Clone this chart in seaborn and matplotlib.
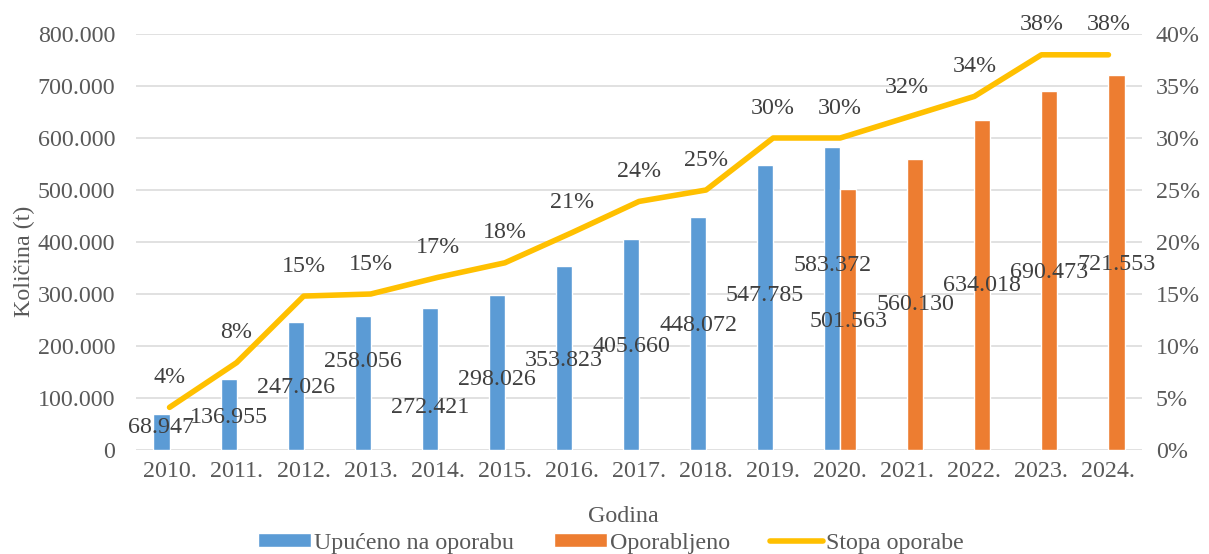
import matplotlib.pyplot as plt
import seaborn as sns
import numpy as np
import pandas as pd
from matplotlib.patches import Patch
from matplotlib.lines import Line2D

# data
years = ["2010.", "2011.", "2012.", "2013.", "2014.", "2015.", "2016.", "2017.",
         "2018.", "2019.", "2020.", "2021.", "2022.", "2023.", "2024."]
upuceno = [68947, 136955, 247026, 258056, 272421, 298026, 353823, 405660,
           448072, 547785, 583372, np.nan, np.nan, np.nan, np.nan]
oporabljeno = [np.nan] * 10 + [501563, 560130, 634018, 690473, 721553]
stopa = [4.1, 8.4, 14.8, 15.0, 16.6, 18.0, 20.9, 23.9, 25.0,
         30.0, 30.0, 32.0, 34.0, 38.0, 38.0]
y_ticks = list(range(0, 800001, 100000))
pct_ticks = list(range(0, 41, 5))

series = ["Upućeno na oporabu", "Oporabljeno"]
line_name = "Stopa oporabe"
colors = ["#5B9BD5", "#ED7D31"]
line_color = "#FFC000"

# label nudges (pixels up from bar centre), layout only
nudge_blue = [5, -3, -2, 21, -28, -7, -2, -2, 8, 12, 33, 0, 0, 0, 0]
nudge_orange = [0] * 10 + [-2, 0, 0, -2, -2]

FS = 17.3


def fmt(v):
    return "0" if v == 0 else f"{v:,.0f}".replace(",", ".")


df = pd.concat([
    pd.DataFrame({"Godina": years, "Količina": upuceno, "Serija": series[0]}),
    pd.DataFrame({"Godina": years, "Količina": oporabljeno, "Serija": series[1]}),
]).dropna()

sns.set_theme(style="white")
plt.rcParams["font.family"] = ["Liberation Serif", "DejaVu Serif"]
plt.rcParams["font.size"] = FS

fig = plt.figure(figsize=(12.09, 5.54), dpi=100)
ax = fig.add_axes([136 / 1209, 1 - 450 / 554, 1006 / 1209, 416 / 554])

sns.barplot(data=df, x="Godina", y="Količina", hue="Serija", order=years,
            hue_order=series, palette=colors, width=0.48, saturation=1,
            dodge=True, legend=False, ax=ax)

ax.set_ylim(0, 800000)
ax.set_yticks(y_ticks)
ax.set_yticklabels([fmt(v) for v in y_ticks])
ax.yaxis.grid(True, color="#d9d9d9", linewidth=1.1)
ax.set_axisbelow(True)
for s in ax.spines.values():
    s.set_visible(False)
ax.tick_params(axis="both", length=0, labelsize=FS, labelcolor="#595959")
ax.tick_params(axis="x", pad=8)
ax.tick_params(axis="y", pad=15)

ax.set_ylabel("Količina (t)", fontsize=FS, color="#595959")
ax.yaxis.set_label_coords(-0.100, 0.454)
ax.set_xlabel("Godina", fontsize=FS, color="#595959")
ax.xaxis.set_label_coords(0.484, -0.135)

# value labels on the bars
nudges = [nudge_blue, nudge_orange]
for k, cont in enumerate(ax.containers):
    for bar in cont:
        h = bar.get_height()
        if np.isnan(h):
            continue
        xc = bar.get_x() + bar.get_width() / 2
        idx = int(round(xc))
        ax.annotate(fmt(h), (xc, h / 2), xytext=(0, nudges[k][idx]),
                    textcoords="offset pixels", ha="center", va="center",
                    fontsize=FS, color="#404040")

# rate line on secondary axis
ax2 = ax.twinx()
xs = np.arange(len(years))
sns.lineplot(x=xs, y=stopa, ax=ax2, color=line_color, linewidth=4,
             solid_capstyle="round", solid_joinstyle="round")
ax2.set_ylim(0, 40)
ax2.set_yticks(pct_ticks)
ax2.set_yticklabels([f"{v}%" for v in pct_ticks])
for s in ax2.spines.values():
    s.set_visible(False)
ax2.tick_params(axis="y", length=0, labelsize=FS, labelcolor="#595959", pad=10)
ax2.set_ylabel("")
ax.set_xlim(-0.5, len(years) - 0.5)

for x, v in zip(xs, stopa):
    ax2.annotate(f"{round(v)}%", (x, v), xytext=(0, 30), textcoords="offset pixels",
                 ha="center", va="center", fontsize=FS, color="#404040",
                 annotation_clip=False)

handles = [Patch(facecolor=colors[0], label=series[0]),
           Patch(facecolor=colors[1], label=series[1]),
           Line2D([], [], color=line_color, linewidth=4, solid_capstyle="round",
                  label=line_name)]
leg = fig.legend(handles=handles, loc="center", bbox_to_anchor=(611 / 1209, 1 - 543 / 554),
                 ncol=3, frameon=False, fontsize=FS, handlelength=2.2,
                 handleheight=0.5, handletextpad=0.13, columnspacing=1.67,
                 borderaxespad=0, borderpad=0)
for t in leg.get_texts():
    t.set_color("#595959")

fig.savefig("out.png", dpi=100)
